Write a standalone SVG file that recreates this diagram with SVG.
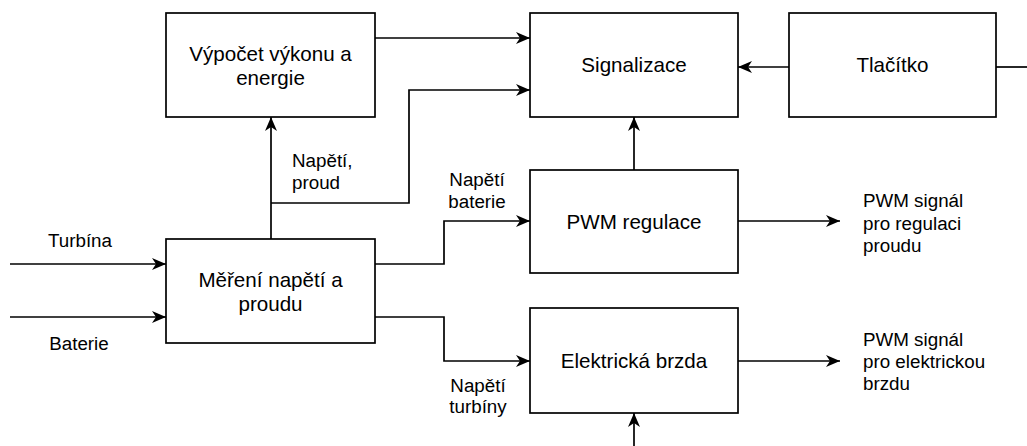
<svg xmlns="http://www.w3.org/2000/svg" width="1027" height="446" viewBox="0 0 1027 446">
<defs>
<style>
.box{fill:#fff;stroke:#000;stroke-width:1.7}
.bt{font-family:"Liberation Sans",Arial,Helvetica,sans-serif;font-size:20.6px;fill:#000;text-anchor:middle}
.lt{font-family:"Liberation Sans",Arial,Helvetica,sans-serif;font-size:18.8px;fill:#000}
.c{fill:none;stroke:#000;stroke-width:1.7}
.ca{fill:none;stroke:#000;stroke-width:1.7;marker-end:url(#ah)}
</style>
<marker id="ah" markerUnits="userSpaceOnUse" markerWidth="15" markerHeight="13" refX="14" refY="6" orient="auto">
<path d="M0,0 L14,6 L0,12 L4,6 Z" fill="#000"/>
</marker>
</defs>
<rect width="1027" height="446" fill="#fff"/>
<g id="connectors">
<path class="ca" d="M375,38 H530"/>
<path class="ca" d="M271,203 H409 V90 H530"/>
<path class="ca" d="M271,239 V117"/>
<path class="ca" d="M789,67 H738"/>
<path class="c" d="M1027,67 H996"/>
<path class="ca" d="M634,170 V117"/>
<path class="ca" d="M10,264 H166"/>
<path class="ca" d="M10,317 H166"/>
<path class="ca" d="M375,264 H444 V221 H530"/>
<path class="ca" d="M375,317 H444 V361 H530"/>
<path class="ca" d="M738,221 H840"/>
<path class="ca" d="M738,361 H840"/>
<path class="ca" d="M634,446 V413"/>
</g>
<g id="vypocet">
<rect class="box" x="166" y="13" width="209" height="104"/>
<text class="bt" x="270.5" y="61">Výpočet výkonu a</text>
<text class="bt" x="270.5" y="85">energie</text>
</g>
<g id="signalizace">
<rect class="box" x="530" y="13" width="208" height="104"/>
<text class="bt" x="634" y="72">Signalizace</text>
</g>
<g id="tlacitko">
<rect class="box" x="789" y="13" width="207" height="104"/>
<text class="bt" x="892.5" y="72">Tlačítko</text>
</g>
<g id="mereni">
<rect class="box" x="166" y="239" width="209" height="104"/>
<text class="bt" x="270.5" y="287">Měření napětí a</text>
<text class="bt" x="270.5" y="311">proudu</text>
</g>
<g id="pwm">
<rect class="box" x="530" y="170" width="208" height="103"/>
<text class="bt" x="634" y="229">PWM regulace</text>
</g>
<g id="brzda">
<rect class="box" x="530" y="308" width="208" height="105"/>
<text class="bt" x="634" y="368">Elektrická brzda</text>
</g>
<g id="labels">
<text class="lt" x="80" y="247" text-anchor="middle">Turbína</text>
<text class="lt" x="79" y="350" text-anchor="middle">Baterie</text>
<text class="lt" x="292" y="167">Napětí,</text>
<text class="lt" x="292" y="189">proud</text>
<text class="lt" x="477" y="186" text-anchor="middle">Napětí</text>
<text class="lt" x="477" y="208" text-anchor="middle">baterie</text>
<text class="lt" x="478" y="392" text-anchor="middle">Napětí</text>
<text class="lt" x="478" y="413" text-anchor="middle">turbíny</text>
<text class="lt" x="863" y="207">PWM signál</text>
<text class="lt" x="863" y="230">pro regulaci</text>
<text class="lt" x="863" y="252">proudu</text>
<text class="lt" x="863" y="346">PWM signál</text>
<text class="lt" x="863" y="368">pro elektrickou</text>
<text class="lt" x="863" y="390">brzdu</text>
</g>
</svg>
